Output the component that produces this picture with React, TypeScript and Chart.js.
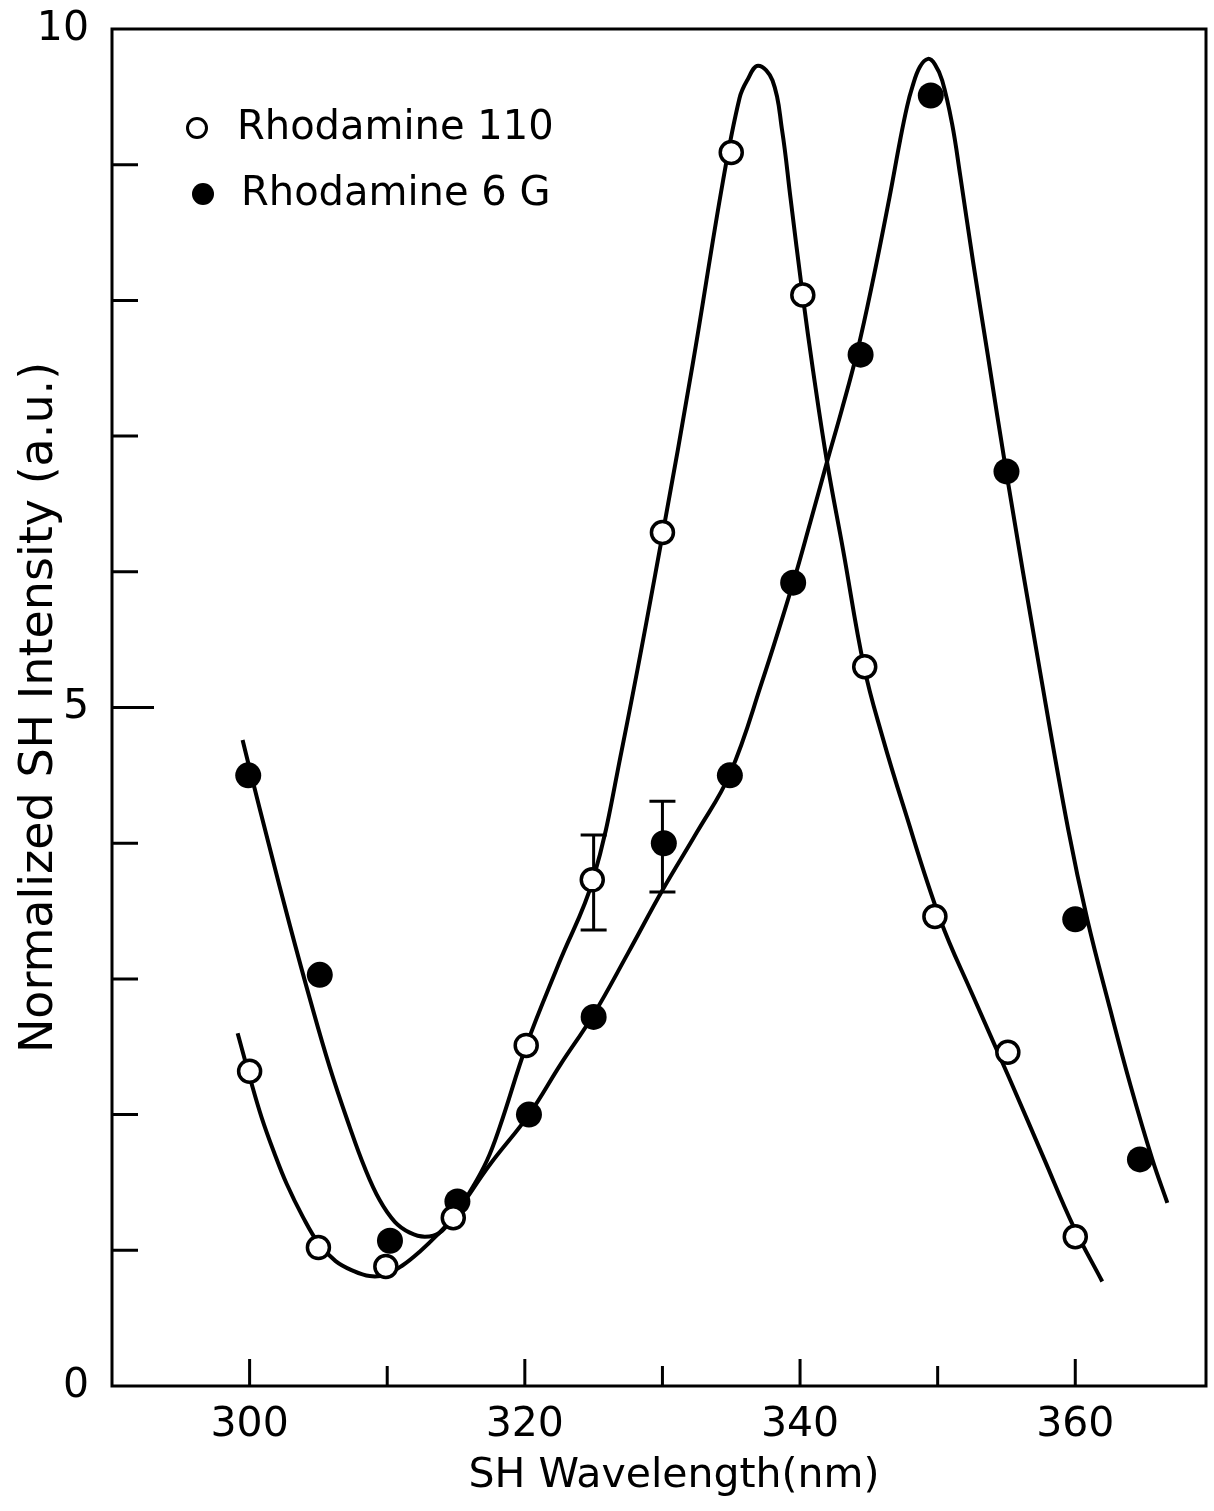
import { useEffect, useRef } from "react";
import { Chart, registerables } from "chart.js";

Chart.register(...registerables);

// ---- data ----
const r110X = [300, 305, 309.9, 314.8, 320.1, 324.9, 330, 335, 340.2, 344.7, 349.8, 355.1, 360];
const r110Y = [2.32, 1.02, 0.88, 1.24, 2.51, 3.73, 6.29, 9.09, 8.04, 5.3, 3.46, 2.46, 1.1];

const r6gX = [299.9, 305.1, 310.2, 315.1, 320.3, 325, 330.1, 334.9, 339.5, 344.4, 349.5, 355, 360, 364.7];
const r6gY = [4.5, 3.03, 1.07, 1.36, 2.0, 2.72, 4.0, 4.5, 5.92, 7.6, 9.51, 6.74, 3.44, 1.67];

const r110FitX = [299.13, 300, 300.87, 301.82, 302.69, 303.85, 305.02, 306.25, 307.49, 308.73, 309.89, 311.13, 312.36, 313.6, 314.76, 316.0, 317.24, 318.18, 320.15, 322.5, 324.95, 327.05, 330, 332.2, 334.4, 335.6, 336.15, 336.95, 338.0, 338.7, 339.3, 340.2, 340.95, 341.96, 343.13, 344.65, 346.0, 347.49, 350.18, 352.5, 355.2, 357.75, 359.85, 361.96];
const r110FitY = [2.6, 2.28, 1.98, 1.71, 1.49, 1.25, 1.05, 0.92, 0.85, 0.81, 0.82, 0.89, 0.99, 1.11, 1.24, 1.43, 1.66, 1.91, 2.52, 3.12, 3.73, 4.69, 6.27, 7.53, 8.88, 9.49, 9.62, 9.73, 9.62, 9.25, 8.76, 8.03, 7.48, 6.81, 6.16, 5.3, 4.78, 4.28, 3.44, 2.89, 2.27, 1.67, 1.18, 0.77];

const r6gFitX = [299.49, 300, 301.45, 302.91, 304.36, 305.82, 307.27, 308.36, 309.45, 310.55, 311.64, 312.73, 313.82, 315.05, 317.45, 320.3, 322.6, 324.95, 327.5, 330.04, 332.5, 334.9, 337.24, 339.5, 340.73, 341.96, 343.05, 344.15, 345.24, 346.5, 347.27, 347.78, 348.15, 348.7, 349.3, 349.8, 350.33, 351.05, 351.64, 352.58, 353.67, 354.98, 357.45, 359.49, 360.87, 362.55, 364.0, 365.6, 366.69];
const r6gFitY = [4.76, 4.55, 3.97, 3.4, 2.86, 2.35, 1.91, 1.61, 1.37, 1.21, 1.13, 1.1, 1.13, 1.28, 1.63, 2.0, 2.37, 2.73, 3.19, 3.66, 4.08, 4.51, 5.19, 5.92, 6.36, 6.81, 7.2, 7.62, 8.12, 8.76, 9.18, 9.43, 9.57, 9.72, 9.78, 9.74, 9.62, 9.3, 8.92, 8.28, 7.58, 6.74, 5.26, 4.1, 3.44, 2.77, 2.22, 1.67, 1.35];

const errX = [325, 330];
const errLow = [3.36, 3.64];
const errHigh = [4.06, 4.31];

const xTicks = [300, 310, 320, 330, 340, 350, 360];
const xTickLabels = ["300", "", "320", "", "340", "", "360"];
const yTicks = [0, 1, 2, 3, 4, 5, 6, 7, 8, 9, 10];
const yTickLabels = ["0", "", "", "", "", "5", "", "", "", "", "10"];

const legendLabels = ["Rhodamine 110", "Rhodamine 6 G"];
const xTitle = "SH Wavelength(nm)";
const yTitle = "Normalized SH Intensity (a.u.)";

const FONT = "'DejaVu Sans', 'Liberation Sans', sans-serif";

const zip = (xs: number[], ys: number[]) => xs.map((x, i) => ({ x, y: ys[i] }));

const framePlugin = {
  id: "frameTicksErr",
  beforeDatasetsDraw(chart: any) {
    const { ctx, chartArea, scales } = chart;
    const { left, right, top, bottom } = chartArea;
    ctx.save();
    ctx.strokeStyle = "#000";
    ctx.lineWidth = 3;
    ctx.lineCap = "butt";
    ctx.strokeRect(left, top, right - left, bottom - top);
    // inward tick marks
    ctx.beginPath();
    xTicks.forEach((v, i) => {
      const px = scales.x.getPixelForValue(v);
      const len = xTickLabels[i] ? 27 : 20;
      ctx.moveTo(px, bottom);
      ctx.lineTo(px, bottom - len);
    });
    yTicks.forEach((v, i) => {
      if (i === 0 || i === yTicks.length - 1) return;
      const py = scales.y.getPixelForValue(v);
      const len = yTickLabels[i] ? 42 : 26;
      ctx.moveTo(left, py);
      ctx.lineTo(left + len, py);
    });
    ctx.stroke();
    // error bars
    ctx.lineWidth = 3;
    ctx.beginPath();
    errX.forEach((v, i) => {
      const px = scales.x.getPixelForValue(v);
      const lo = scales.y.getPixelForValue(errLow[i]);
      const hi = scales.y.getPixelForValue(errHigh[i]);
      ctx.moveTo(px, lo);
      ctx.lineTo(px, hi);
      ctx.moveTo(px - 13, lo);
      ctx.lineTo(px + 13, lo);
      ctx.moveTo(px - 13, hi);
      ctx.lineTo(px + 13, hi);
    });
    ctx.stroke();
    ctx.restore();
  },
  afterDraw(chart: any) {
    const { ctx, chartArea } = chart;
    const { left, right, top } = chartArea;
    ctx.save();
    ctx.fillStyle = "#000";
    ctx.strokeStyle = "#000";
    ctx.font = `40px ${FONT}`;
    ctx.textBaseline = "middle";
    ctx.textAlign = "left";
    // open circle entry
    ctx.beginPath();
    ctx.lineWidth = 3;
    ctx.arc(left + 85, top + 99, 9.5, 0, Math.PI * 2);
    ctx.fillStyle = "#fff";
    ctx.fill();
    ctx.stroke();
    ctx.fillStyle = "#000";
    ctx.fillText(legendLabels[0], left + 125, top + 100);
    // filled circle entry
    ctx.beginPath();
    ctx.arc(left + 91, top + 165, 11, 0, Math.PI * 2);
    ctx.fill();
    ctx.fillText(legendLabels[1], left + 129, top + 166);
    // x axis title
    ctx.font = `41px ${FONT}`;
    ctx.textAlign = "center";
    ctx.fillText(xTitle, (left + right) / 2 + 15, 1476);
    ctx.restore();
  },
};

const zeroPad = (s: any) => {
  s.paddingTop = 0;
  s.paddingBottom = 0;
  s.paddingLeft = 0;
  s.paddingRight = 0;
};

export default function App() {
  const ref = useRef<HTMLCanvasElement | null>(null);
  useEffect(() => {
    if (!ref.current) return;
    const chart = new Chart(ref.current, {
      type: "line",
      data: {
        datasets: [
          {
            label: legendLabels[0],
            data: zip(r110X, r110Y),
            showLine: false,
            pointRadius: 11,
            pointBorderWidth: 3.5,
            pointBackgroundColor: "#fff",
            pointBorderColor: "#000",
            order: 0,
          },
          {
            label: legendLabels[1],
            data: zip(r6gX, r6gY),
            showLine: false,
            pointRadius: 13,
            pointBorderWidth: 0,
            pointBackgroundColor: "#000",
            pointBorderColor: "#000",
            order: 0,
          },
          {
            label: "fit110",
            data: zip(r110FitX, r110FitY),
            borderColor: "#000",
            borderWidth: 4,
            pointRadius: 0,
            tension: 0.4,
            fill: false,
            order: 1,
          },
          {
            label: "fit6G",
            data: zip(r6gFitX, r6gFitY),
            borderColor: "#000",
            borderWidth: 4,
            pointRadius: 0,
            tension: 0.4,
            fill: false,
            order: 1,
          },
        ],
      },
      options: {
        responsive: false,
        animation: false,
        devicePixelRatio: 1,
        events: [],
        layout: { autoPadding: false, padding: { left: 0, right: 8, top: 29, bottom: 0 } },
        plugins: { legend: { display: false }, tooltip: { enabled: false } },
        scales: {
          x: {
            type: "linear",
            min: 290,
            max: 369.5,
            afterBuildTicks: (s: any) => {
              s.ticks = xTicks.map((v) => ({ value: v }));
            },
            afterFit: (s: any) => {
              s.height = 125;
              zeroPad(s);
            },
            grid: { display: false },
            border: { display: false },
            ticks: {
              autoSkip: false,
              maxRotation: 0,
              padding: 7,
              color: "#000",
              font: { family: FONT, size: 41 },
              callback: (v: any) => {
                const i = xTicks.indexOf(Number(v));
                return i >= 0 ? xTickLabels[i] : "";
              },
            },
            title: { display: false },
          },
          y: {
            type: "linear",
            min: 0,
            max: 10,
            afterBuildTicks: (s: any) => {
              s.ticks = yTicks.map((v) => ({ value: v }));
            },
            afterFit: (s: any) => {
              s.width = 112;
              zeroPad(s);
            },
            grid: { display: false },
            border: { display: false },
            ticks: {
              autoSkip: false,
              padding: 15,
              color: "#000",
              font: { family: FONT, size: 41 },
              callback: (v: any) => {
                const i = yTicks.indexOf(Number(v));
                return i >= 0 ? yTickLabels[i] : "";
              },
            },
            title: {
              display: true,
              text: yTitle,
              color: "#000",
              font: { family: FONT, size: 46 },
              padding: { top: 12, bottom: 0 },
            },
          },
        },
      },
      plugins: [framePlugin],
    } as any);
    return () => chart.destroy();
  }, []);

  return (
    <div style={{ position: "absolute", left: 0, top: 0, width: 1214, height: 1511, background: "#fff" }}>
      <canvas ref={ref} width={1214} height={1511} style={{ display: "block" }} />
    </div>
  );
}
